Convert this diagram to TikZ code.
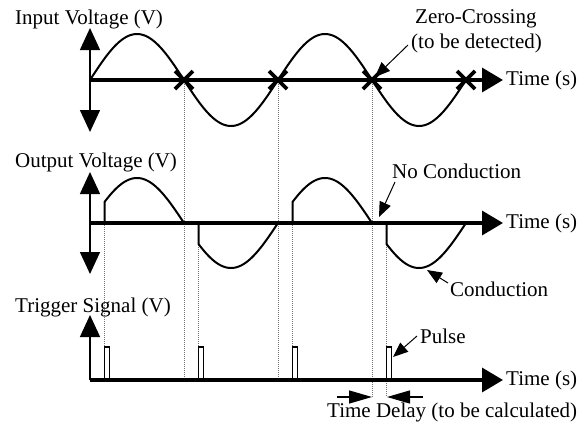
\documentclass[tikz,border=0pt]{standalone}
\usepackage{fontspec}
\setmainfont{Liberation Serif}
\usetikzlibrary{arrows.meta}
\begin{document}
\begin{tikzpicture}[x=1pt,y=-1pt,
  every node/.style={inner sep=0pt, font=\fontsize{21}{25}\selectfont},
  lbl/.style={anchor=base west},
  axisline/.style={line width=3.5pt},
  bigtip/.style={-{Triangle[length=21pt,width=24pt]}},
  vaxis/.style={line width=1.5pt,-{Triangle[length=22pt,width=20pt]}},
  wave/.style={line width=2pt},
  crossmark/.style={line width=3.8pt},
  guide/.style={black!55, line width=1pt, dash pattern=on 1pt off 1pt},
  pointer/.style={line width=1pt,-{Triangle[length=15pt,width=12pt]}},
  delayarrow/.style={line width=1.3pt,-{Triangle[length=23pt,width=13pt]}},
  pulsebox/.style={line width=1.5pt}]
\useasboundingbox (0,0) rectangle (587,421);

% coordinates
\coordinate (o1) at (90,80);
\coordinate (o2) at (90,223);
\coordinate (o3) at (90,380);
\coordinate (e1) at (503,80);
\coordinate (e2) at (503,223);
\coordinate (e3) at (503,380);

% guide lines
\foreach \gx/\gy in {184/380, 278/380, 372/397}
  \draw[guide] (\gx,80) -- (\gx,\gy);
\foreach \gx in {104.5, 198.5, 292.5}
  \draw[guide] (\gx,223) -- (\gx,347);
\draw[guide] (386.5,223) -- (386.5,397);

% ---------- Input voltage ----------
\draw[wave] plot[domain=90:466, samples=200] (\x, {80-46*sin((\x-90)/94*180)});
\draw[axisline, bigtip] (o1) -- (e1);
\draw[vaxis] (o1) -- (90,28);
\draw[vaxis] (o1) -- (90,132);
\foreach \cx in {184, 278, 372, 466}{
  \draw[crossmark] (\cx-9,71) -- (\cx+9,89);
  \draw[crossmark] (\cx-9,89) -- (\cx+9,71);
}
\coordinate (zc) at (375,77);
\node[lbl] (tin) at (15,24) {Input Voltage (V)};
\node[anchor=west] (t1) at (506,80) {Time (s)};
\node[lbl] (zc1) at (415,23) {Zero-Crossing};
\node[lbl] (zc2) at (411,48) {(to be detected)};
\draw[pointer] (408,45) -- (zc);

% ---------- Output voltage ----------
\foreach \k in {0,1,2,3}{
  \pgfmathsetmacro{\s}{90+94*\k+14.5}
  \pgfmathsetmacro{\e}{90+94*(\k+1)}
  \draw[wave] (\s,223) -- plot[domain=\s:\e, samples=80] (\x, {223-45*sin((\x-90)/94*180)});
}
\draw[axisline, bigtip] (o2) -- (e2);
\draw[vaxis] (o2) -- (90,172);
\draw[vaxis] (o2) -- (90,274);
\node[lbl] (tout) at (15,167) {Output Voltage (V)};
\node[anchor=west] (t2) at (506,223) {Time (s)};
\node[lbl] (nc) at (392,178) {No Conduction};
\coordinate (ncp) at (379,217);
\draw[pointer] (395,182) -- (ncp);
\node[lbl] (cd) at (450,296) {Conduction};
\coordinate (cdp) at (427,270);
\draw[pointer] (448,283) -- (cdp);

% ---------- Trigger signal ----------
\foreach \px in {104.5, 198.5, 292.5, 386.5}
  \draw[pulsebox] (\px,380) -- (\px,347) -- (\px+5,347) -- (\px+5,380);
\draw[axisline, bigtip] (o3) -- (e3);
\draw[vaxis] (o3) -- (90,315);
\node[lbl] (ttr) at (15,312) {Trigger Signal (V)};
\node[anchor=west] (t3) at (506,380) {Time (s)};
\node[lbl] (pl) at (420,343) {Pulse};
\coordinate (plp) at (393,357);
\draw[pointer] (417,336) -- (plp);
\coordinate (dl) at (372,397);
\coordinate (dr) at (387,397);
\draw[delayarrow] (337,397) -- (dl);
\draw[delayarrow] (423,397) -- (dr);
\node[lbl] (td) at (327,417) {Time Delay (to be calculated)};
\end{tikzpicture}
\end{document}
